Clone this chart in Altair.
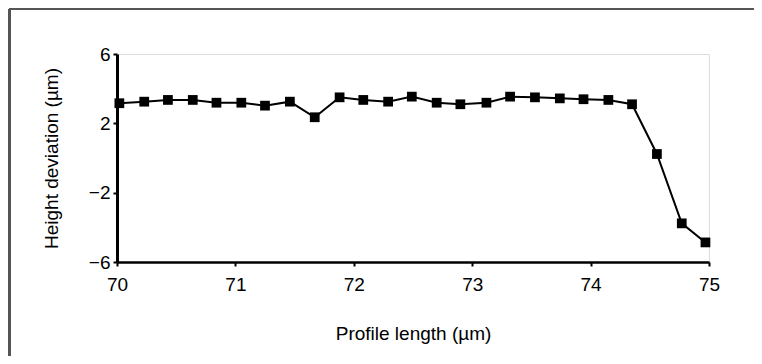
import altair as alt
import pandas as pd

profile_length = [70.02, 70.23, 70.43, 70.64, 70.84, 71.05, 71.25, 71.46, 71.67, 71.88,
                  72.08, 72.29, 72.49, 72.70, 72.90, 73.12, 73.32, 73.53, 73.74, 73.94,
                  74.15, 74.35, 74.56, 74.77, 74.97]
height_dev = [3.16, 3.25, 3.35, 3.35, 3.19, 3.19, 3.02, 3.25, 2.35, 3.50,
              3.35, 3.25, 3.54, 3.19, 3.10, 3.19, 3.54, 3.50, 3.44, 3.39,
              3.35, 3.10, 0.23, -3.77, -4.87]
x_ticks = [70, 71, 72, 73, 74, 75]
y_ticks = [-6, -2, 2, 6]

df = pd.DataFrame({"x": profile_length, "y": height_dev})

FONT = "Liberation Sans, Arial, sans-serif"
FS = 19

xenc = alt.X("x:Q", scale=alt.Scale(domain=[70, 75], nice=False, zero=False),
             axis=alt.Axis(values=x_ticks, format="d", title="Profile length (µm)", grid=False,
                           domainColor="black", domainWidth=2.5, tickColor="black",
                           tickWidth=2, tickSize=4, labelPadding=9, titlePadding=30,
                           labelFontSize=FS, titleFontSize=FS, labelColor="black",
                           titleColor="black", labelFont=FONT, titleFont=FONT,
                           titleFontWeight="normal", labelFlush=False))
yenc = alt.Y("y:Q", scale=alt.Scale(domain=[-6, 6], nice=False, zero=False),
             axis=alt.Axis(values=y_ticks, format="d", title="Height deviation (µm)", grid=False,
                           domainColor="black", domainWidth=3, tickColor="black",
                           tickWidth=2, tickSize=4, labelPadding=3, titlePadding=27,
                           labelFontSize=FS, titleFontSize=FS, labelColor="black",
                           titleColor="black", labelFont=FONT, titleFont=FONT,
                           titleFontWeight="normal", labelFlush=False))

line = alt.Chart(df).mark_line(color="black", strokeWidth=2, clip=False).encode(x=xenc, y=yenc)
pts = alt.Chart(df).mark_point(shape="square", filled=True, size=95, color="black",
                               opacity=1).encode(x="x:Q", y="y:Q")

frame_top = alt.Chart(df).mark_rule(color="#555555", strokeWidth=2).encode(
    x=alt.value(-108), x2=alt.value(660), y=alt.value(-45))
frame_left = alt.Chart(df).mark_rule(color="#555555", strokeWidth=1.5).encode(
    x=alt.value(-107.5), y=alt.value(-45), y2=alt.value(320))

chart = alt.layer(frame_top, frame_left, line, pts).properties(
    width=592, height=208,
    autosize=alt.AutoSizeParams(type="none"),
    padding={"left": 109, "top": 46, "right": 45, "bottom": 94},
).configure_view(stroke=None).configure(background="white")

chart.save("out.html", embed_options={"renderer": "svg", "actions": False})
